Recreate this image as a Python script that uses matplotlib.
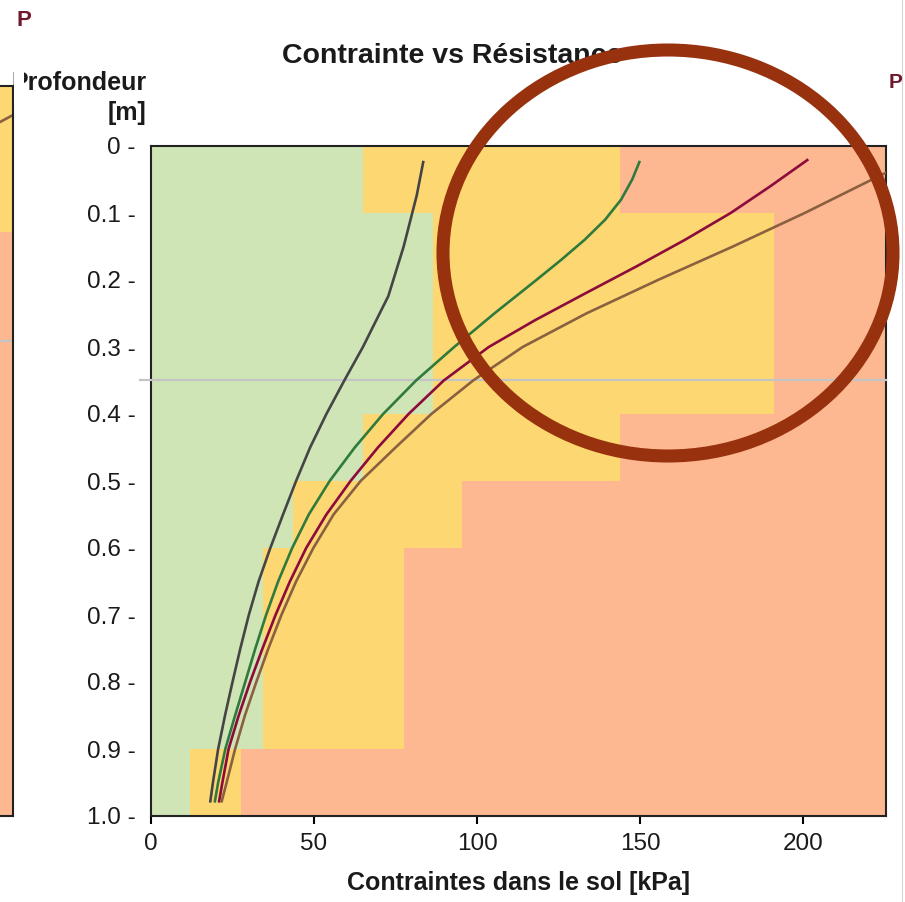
import matplotlib.pyplot as plt
import numpy as np
from matplotlib.patches import Ellipse, Rectangle

plt.rcParams['font.family'] = ['Liberation Sans', 'DejaVu Sans']

# zones de résistance par tranche de 0.1 m
band_top = [0.0, 0.1, 0.2, 0.3, 0.4, 0.5, 0.6, 0.7, 0.8, 0.9]
green_lim = [65, 86.5, 86.5, 86.5, 65, 43.5, 34.5, 34.5, 34.5, 12]
yellow_lim = [144, 191, 191, 191, 144, 95.5, 77.5, 77.5, 77.5, 27.5]

# courbes de contrainte (profondeur [m], contrainte [kPa])
grey_d = [0.024, 0.074, 0.15, 0.224, 0.30, 0.35, 0.40, 0.45, 0.50, 0.55, 0.60, 0.65,
          0.70, 0.75, 0.80, 0.85, 0.90, 0.95, 0.978]
grey_x = [83.5, 81.5, 77.5, 72.8, 65.0, 59.3, 53.8, 48.8, 44.5, 40.5, 36.6, 33.0,
          30.0, 27.4, 25.0, 22.7, 20.6, 19.0, 18.2]

green_d = [0.024, 0.05, 0.08, 0.11, 0.14, 0.17, 0.20, 0.25, 0.30, 0.35, 0.40, 0.45,
           0.50, 0.55, 0.60, 0.65, 0.70, 0.75, 0.80, 0.85, 0.90, 0.95, 0.978]
green_x = [149.8, 147.6, 144.2, 139.3, 133.0, 125.8, 118.2, 105.3, 93.0, 81.3, 71.2, 62.5,
           54.8, 48.4, 43.3, 39.0, 35.3, 32.0, 28.9, 25.8, 22.8, 20.6, 19.6]

red_d = [0.021, 0.06, 0.10, 0.14, 0.18, 0.22, 0.26, 0.30, 0.35, 0.40, 0.45, 0.50,
         0.55, 0.60, 0.65, 0.70, 0.75, 0.80, 0.85, 0.90, 0.95, 0.978]
red_x = [201.3, 190.0, 177.8, 163.8, 148.8, 133.2, 117.8, 103.6, 89.8, 79.0, 69.6, 61.2,
         53.8, 47.6, 42.6, 38.2, 34.2, 30.4, 26.9, 23.8, 21.9, 20.9]

brown_d = [0.024, 0.05, 0.10, 0.15, 0.20, 0.25, 0.30, 0.35, 0.40, 0.45, 0.50, 0.55,
           0.60, 0.65, 0.70, 0.75, 0.80, 0.85, 0.90, 0.95, 0.978]
brown_x = [232.0, 221.2, 200.5, 178.5, 155.5, 133.5, 114.0, 98.8, 86.0, 75.0, 64.3, 56.0,
           49.8, 44.5, 40.0, 36.0, 32.3, 28.8, 25.8, 23.2, 21.7]

ref_depth = 0.349
x_ticks = [0, 50, 100, 150, 200]
y_ticks = [0, 0.1, 0.2, 0.3, 0.4, 0.5, 0.6, 0.7, 0.8, 0.9, 1.0]
y_ticklabels = ['0 -', '0.1 -', '0.2 -', '0.3 -', '0.4 -', '0.5 -', '0.6 -', '0.7 -',
                '0.8 -', '0.9 -', '1.0 -']

C_GREEN = '#cfe5b6'
C_YELLOW = '#fdd872'
C_SALMON = '#fdb891'
TXT = '#1a1a1a'

W, H = 905, 902
fig = plt.figure(figsize=(W / 100, H / 100), dpi=100)

def px_axes(left, top, right, bottom):
    return fig.add_axes([left / W, 1 - bottom / H, (right - left) / W, (bottom - top) / H])

# graphe principal
ax = px_axes(151, 146, 885.5, 816)
band_top = np.array(band_top)
green_lim = np.array(green_lim)
yellow_lim = np.array(yellow_lim)
ax.barh(band_top, green_lim, height=0.1, align='edge', color=C_GREEN, lw=0)
ax.barh(band_top, yellow_lim - green_lim, left=green_lim, height=0.1, align='edge',
        color=C_YELLOW, lw=0)
ax.barh(band_top, 300 - yellow_lim, left=yellow_lim, height=0.1, align='edge',
        color=C_SALMON, lw=0)

ax.axhline(ref_depth, xmin=-0.015, xmax=1, color='#c4c4c4', lw=1.6, clip_on=False, zorder=3)

lw = 1.9
ax.plot(grey_x, grey_d, color='#454545', lw=lw, zorder=4)
ax.plot(green_x, green_d, color='#2f7a3c', lw=lw, zorder=4)
ax.plot(red_x, red_d, color='#8c0a3c', lw=lw, zorder=4)
ax.plot(brown_x, brown_d, color='#8a6040', lw=lw, zorder=4)

ax.set_xlim(0, 225.3)
ax.set_ylim(1.0, 0)
ax.set_xticks(x_ticks)
ax.set_yticks(y_ticks)
ax.set_yticklabels(y_ticklabels)
ax.tick_params(axis='y', length=0, pad=11, labelsize=17.5, labelcolor=TXT)
ax.tick_params(axis='x', length=6, width=1.5, pad=6, labelsize=17.5, labelcolor=TXT)
for s in ax.spines.values():
    s.set_linewidth(1.5)
    s.set_color('#222222')
ax.set_xlabel('Contraintes dans le sol [kPa]', fontsize=18, fontweight='bold',
              color=TXT, labelpad=12)

fig.text(452 / W, 1 - 56 / H, 'Contrainte vs Résistance', ha='center', va='center',
         fontsize=20.5, fontweight='bold', color=TXT)
fig.text(146 / W, 1 - 98 / H, 'Profondeur\n[m]', ha='right', va='center',
         multialignment='right', fontsize=18, fontweight='bold', color=TXT,
         linespacing=1.3)

# graphe voisin à gauche (seul le bord droit est visible)
axl = px_axes(12.5 - 734.5, 86, 12.5, 816)
axl.axhspan(0, 0.2, color=C_YELLOW, lw=0)
axl.axhspan(0.2, 1.0, color=C_SALMON, lw=0)
axl.axhline(ref_depth, color='#c4c4c4', lw=1.6)
axl.plot(brown_x, brown_d, color='#8a6040', lw=lw)
axl.set_xlim(0, 225.3)
axl.set_ylim(1.0, 0)
axl.set_xticks([])
axl.set_yticks([])
for s in axl.spines.values():
    s.set_linewidth(1.5)
    s.set_color('#222222')

# calque de dessus : cercle, lettres coupées des graphes voisins
top = fig.add_axes([0, 0, 1, 1], zorder=10)
top.set_xlim(0, W)
top.set_ylim(H, 0)
top.axis('off')
top.add_patch(Rectangle((13.5, 60), 10.5, 45, facecolor='white', edgecolor='none'))
top.text(16, 20, 'P', ha='left', va='center', fontsize=16, fontweight='bold', color='#6e1a2c')
top.text(889, 82, 'P', ha='left', va='center', fontsize=15, fontweight='bold', color='#6e1a2c')
top.plot([902, 902], [0, H], color='#d6d6d6', lw=0.8)
top.add_patch(Ellipse((668, 253), 450, 406, fill=False, edgecolor='#98320e', lw=9.4))

fig.savefig('out.png', dpi=100)
